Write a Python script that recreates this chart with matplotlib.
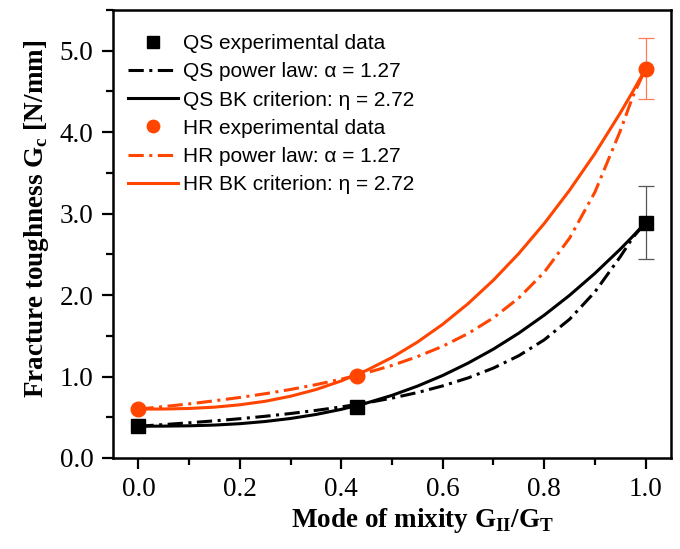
import matplotlib
matplotlib.use("Agg")
import matplotlib.pyplot as plt
from matplotlib.ticker import MultipleLocator, FormatStrFormatter

# ---- data ----
mix_exp = [0.0, 0.43, 1.0]
qs_exp = [0.39, 0.63, 2.89]
hr_exp = [0.60, 1.01, 4.78]
qs_err = [0.0, 0.0, 0.45]
hr_err = [0.0, 0.0, 0.37]

mix_curve = [0.0, 0.05, 0.10, 0.15, 0.20, 0.25, 0.30, 0.35, 0.40, 0.45, 0.50,
             0.55, 0.60, 0.65, 0.70, 0.75, 0.80, 0.85, 0.90, 0.95, 0.975, 1.0]
qs_power = [0.390, 0.410, 0.432, 0.456, 0.482, 0.512, 0.546, 0.584, 0.627, 0.677,
            0.735, 0.803, 0.885, 0.983, 1.104, 1.256, 1.450, 1.703, 2.039, 2.471,
            2.709, 2.890]
qs_bk = [0.390, 0.391, 0.395, 0.404, 0.421, 0.448, 0.485, 0.534, 0.597, 0.675,
         0.769, 0.882, 1.013, 1.165, 1.337, 1.533, 1.753, 1.997, 2.267, 2.564,
         2.724, 2.890]
hr_power = [0.600, 0.631, 0.664, 0.702, 0.743, 0.789, 0.841, 0.900, 0.968, 1.046,
            1.136, 1.244, 1.372, 1.528, 1.721, 1.965, 2.280, 2.699, 3.264, 4.016,
            4.443, 4.780]
hr_bk = [0.600, 0.601, 0.608, 0.624, 0.653, 0.696, 0.758, 0.840, 0.946, 1.076,
         1.234, 1.422, 1.642, 1.895, 2.184, 2.511, 2.878, 3.287, 3.738, 4.236,
         4.502, 4.780]

labels = ["QS experimental data", "QS power law: α = 1.27", "QS BK criterion: η = 2.72",
          "HR experimental data", "HR power law: α = 1.27", "HR BK criterion: η = 2.72"]

ORANGE = "#FF4500"
serif = "Liberation Serif"
sans = "Liberation Sans"

fig = plt.figure(figsize=(6.8, 5.49), dpi=100)
ax = fig.add_axes([0.1662, 0.1658, 0.8206, 0.816])

dd = (5, 1.8, 1, 1.8)
lw = 2.2

h_qs_pow, = ax.plot(mix_curve, qs_power, color="black", lw=lw, dashes=dd, zorder=3)
h_qs_bk, = ax.plot(mix_curve, qs_bk, color="black", lw=lw, zorder=3)
h_hr_pow, = ax.plot(mix_curve, hr_power, color=ORANGE, lw=lw, dashes=dd, zorder=3)
h_hr_bk, = ax.plot(mix_curve, hr_bk, color=ORANGE, lw=lw, zorder=3)

ax.errorbar(mix_exp[2:], qs_exp[2:], yerr=qs_err[2:], fmt="none", ecolor="#555555",
            elinewidth=0.9, capsize=6, capthick=0.9, zorder=2)
ax.errorbar(mix_exp[2:], hr_exp[2:], yerr=hr_err[2:], fmt="none", ecolor="#FF7A55",
            elinewidth=0.9, capsize=6, capthick=0.9, zorder=2)

h_qs_exp, = ax.plot(mix_exp, qs_exp, linestyle="none", marker="s", ms=9.5,
                    color="black", zorder=5)
h_hr_exp, = ax.plot(mix_exp, hr_exp, linestyle="none", marker="o", ms=10.5,
                    color=ORANGE, zorder=5)

ax.set_xlim(-0.05, 1.05)
ax.set_ylim(0, 5.5)
ax.xaxis.set_major_locator(MultipleLocator(0.2))
ax.xaxis.set_minor_locator(MultipleLocator(0.1))
ax.yaxis.set_major_locator(MultipleLocator(1.0))
ax.yaxis.set_minor_locator(MultipleLocator(0.5))
ax.xaxis.set_major_formatter(FormatStrFormatter("%.1f"))
ax.yaxis.set_major_formatter(FormatStrFormatter("%.1f"))
ax.tick_params(which="major", direction="out", length=8, width=1.6, pad=6)
ax.tick_params(which="minor", direction="out", length=5, width=1.6)
for sp in ax.spines.values():
    sp.set_linewidth(1.8)
for t in ax.get_xticklabels() + ax.get_yticklabels():
    t.set_fontfamily(serif)
    t.set_fontsize(19.5)

ax.set_xlabel(r"Mode of mixity G$_\mathregular{II}$/G$_\mathregular{T}$",
              fontfamily=serif, fontweight="bold", fontsize=19.5)
ax.set_ylabel(r"Fracture toughness G$_\mathregular{c}$ [N/mm]",
              fontfamily=serif, fontweight="bold", fontsize=19.5)
ax.xaxis.set_label_coords(0.554, -0.107)
ax.yaxis.set_label_coords(-0.111, 0.533)

leg = ax.legend([h_qs_exp, h_qs_pow, h_qs_bk, h_hr_exp, h_hr_pow, h_hr_bk], labels,
                loc="upper left", bbox_to_anchor=(0.027, 0.946), borderaxespad=0,
                borderpad=0, frameon=False, handlelength=2.4, handletextpad=0.25,
                labelspacing=0.44, prop={"family": sans, "size": 15}, markerscale=0.85)

fig.savefig("out.png", dpi=100)
